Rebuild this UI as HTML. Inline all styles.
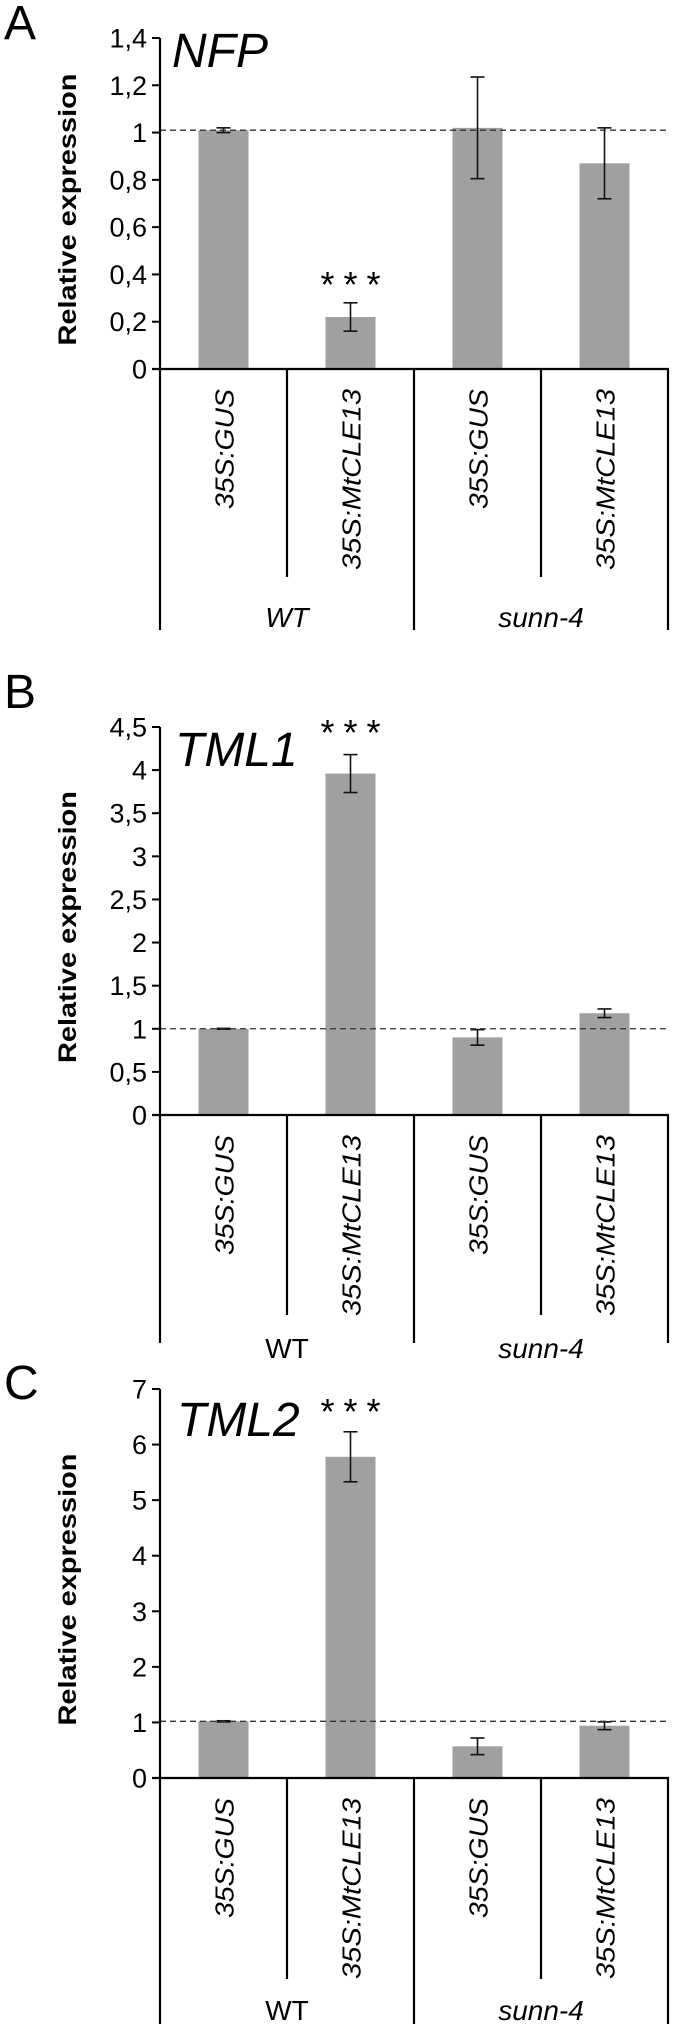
<!DOCTYPE html>
<html><head><meta charset="utf-8"><style>
html,body{margin:0;padding:0;background:#fff;}
svg{display:block;font-family:"Liberation Sans",Arial,sans-serif;}
</style></head><body>
<svg id="fig" width="674" height="2024" viewBox="0 0 674 2024" xmlns="http://www.w3.org/2000/svg"></svg>
<script>
const categories = ["35S:GUS","35S:MtCLE13","35S:GUS","35S:MtCLE13"];
const groups = ["WT","sunn-4"];
const valuesA = [1.01, 0.22, 1.02, 0.87];
const errorsA = [0.01, 0.06, 0.215, 0.15];
const ticksA = ["0","0,2","0,4","0,6","0,8","1","1,2","1,4"];
const valuesB = [1.0, 3.96, 0.90, 1.18];
const errorsB = [0.005, 0.22, 0.09, 0.05];
const ticksB = ["0","0,5","1","1,5","2","2,5","3","3,5","4","4,5"];
const valuesC = [1.02, 5.78, 0.57, 0.94];
const errorsC = [0.01, 0.45, 0.15, 0.07];
const ticksC = ["0","1","2","3","4","5","6","7"];
const refA = 1.01, refB = 1.0, refC = 1.02;

const NS = "http://www.w3.org/2000/svg";
const svg = document.getElementById("fig");
function mk(tag, attrs, parent, text){
  const e = document.createElementNS(NS, tag);
  for (const k in attrs) e.setAttribute(k, attrs[k]);
  if (text !== undefined) e.textContent = text;
  (parent||svg).appendChild(e);
  return e;
}

const panels = [
 {id:"a", letter:"A", ly:39, gene:"NFP", gx:172, gy:67, vals:valuesA, errs:errorsA, ticks:ticksA, step:0.2, max:1.4, ref:refA,
  y0:369, yTop:38, innerEnd:577, outerEnd:630, groupY:627, wtItalic:true, starY:297},
 {id:"b", letter:"B", ly:708, gene:"TML1", gx:175, gy:766, vals:valuesB, errs:errorsB, ticks:ticksB, step:0.5, max:4.5, ref:refB,
  y0:1115, yTop:727, innerEnd:1315, outerEnd:1343, groupY:1358, wtItalic:false, starY:745},
 {id:"c", letter:"C", ly:1399, gene:"TML2", gx:177, gy:1436, vals:valuesC, errs:errorsC, ticks:ticksC, step:1, max:7, ref:refC,
  y0:1778, yTop:1389, innerEnd:1979, outerEnd:2024, groupY:2020, wtItalic:false, starY:1424}
];

const ax = 160, axR = 668, catW = (axR-ax)/4, barW = 50;

panels.forEach(p => {
  const g = mk("g", {});
  
  
  const y = v => p.y0 - (v / p.max) * (p.y0 - p.yTop);
  const xc = i => ax + catW * (i + 0.5);

  const L = mk("text", {x:4, y:p.ly, "font-size":48}, g, p.letter);
  
  
  const T = mk("text", {x:p.gx, y:p.gy, "font-size":48, "font-style":"italic"}, g, p.gene);
  
  

  p.vals.forEach((v, i) => {
    const b = mk("rect", {x:xc(i)-barW/2, y:y(v), width:barW, height:p.y0-y(v), fill:"#a0a0a0"}, g);
    
    
  });
  p.vals.forEach((v, i) => {
    const e = p.errs[i], x = xc(i);
    const eg = mk("g", {stroke:"#111", "stroke-width":1.6}, g);
    
    
    mk("line", {x1:x, x2:x, y1:y(v+e), y2:y(v-e)}, eg);
    mk("line", {x1:x-7, x2:x+7, y1:y(v+e), y2:y(v+e)}, eg);
    mk("line", {x1:x-7, x2:x+7, y1:y(v-e), y2:y(v-e)}, eg);
  });
  const d = mk("line", {x1:ax, x2:axR, y1:y(p.ref), y2:y(p.ref), stroke:"#333", "stroke-width":1.3, "stroke-dasharray":"6,4"}, g);
  
  

  const ya = mk("g", {}, g);
  
  
  mk("line", {x1:ax, x2:ax, y1:p.yTop, y2:p.y0, stroke:"#000", "stroke-width":2.2}, ya);
  p.ticks.forEach((t, k) => {
    const ty = y(k * p.step);
    mk("line", {x1:ax-8, x2:ax, y1:ty, y2:ty, stroke:"#000", "stroke-width":2}, ya);
    const tl = mk("text", {x:ax-13, y:ty+9.5, "font-size":27, "text-anchor":"end"}, ya, t);
    
    
  });
  const yt = mk("text", {x:0, y:0, "font-size":25, "font-weight":"bold", "text-anchor":"middle",
    textLength:272, lengthAdjust:"spacingAndGlyphs",
    transform:"translate(76," + ((p.y0+p.yTop)/2 + 6) + ") rotate(-90)"}, g, "Relative expression");
  
  

  const xa = mk("g", {stroke:"#000", "stroke-width":2.2}, g);
  
  
  mk("line", {x1:ax-8, x2:axR+1, y1:p.y0, y2:p.y0}, xa);
  [0,2,4].forEach(k => mk("line", {x1:ax+catW*k, x2:ax+catW*k, y1:p.y0, y2:p.outerEnd}, xa));
  [1,3].forEach(k => mk("line", {x1:ax+catW*k, x2:ax+catW*k, y1:p.y0, y2:p.innerEnd}, xa));

  categories.forEach((c, i) => {
    const x = xc(i) + 10, ty = p.y0 + 20;
    const t = mk("text", {x:0, y:0, "font-size":26, "font-style":"italic", "text-anchor":"end",
      textLength:(c.length > 8 ? 181 : 120), lengthAdjust:"spacingAndGlyphs",
      transform:"translate(" + x + "," + ty + ") rotate(-90)"}, g, c);
    
    
  });
  groups.forEach((gr, j) => {
    const italic = (j === 1) || p.wtItalic;
    const t = mk("text", {x:ax + catW*(1+2*j), y:p.groupY, "font-size":28, "text-anchor":"middle",
      "font-style": italic ? "italic" : "normal"}, g, gr);
    
    
  });
  const s = mk("text", {x:xc(1), y:p.starY, "font-size":36, "text-anchor":"middle",
    textLength:60, lengthAdjust:"spacing"}, g, "***");
  
  
});
</script>
</body></html>
